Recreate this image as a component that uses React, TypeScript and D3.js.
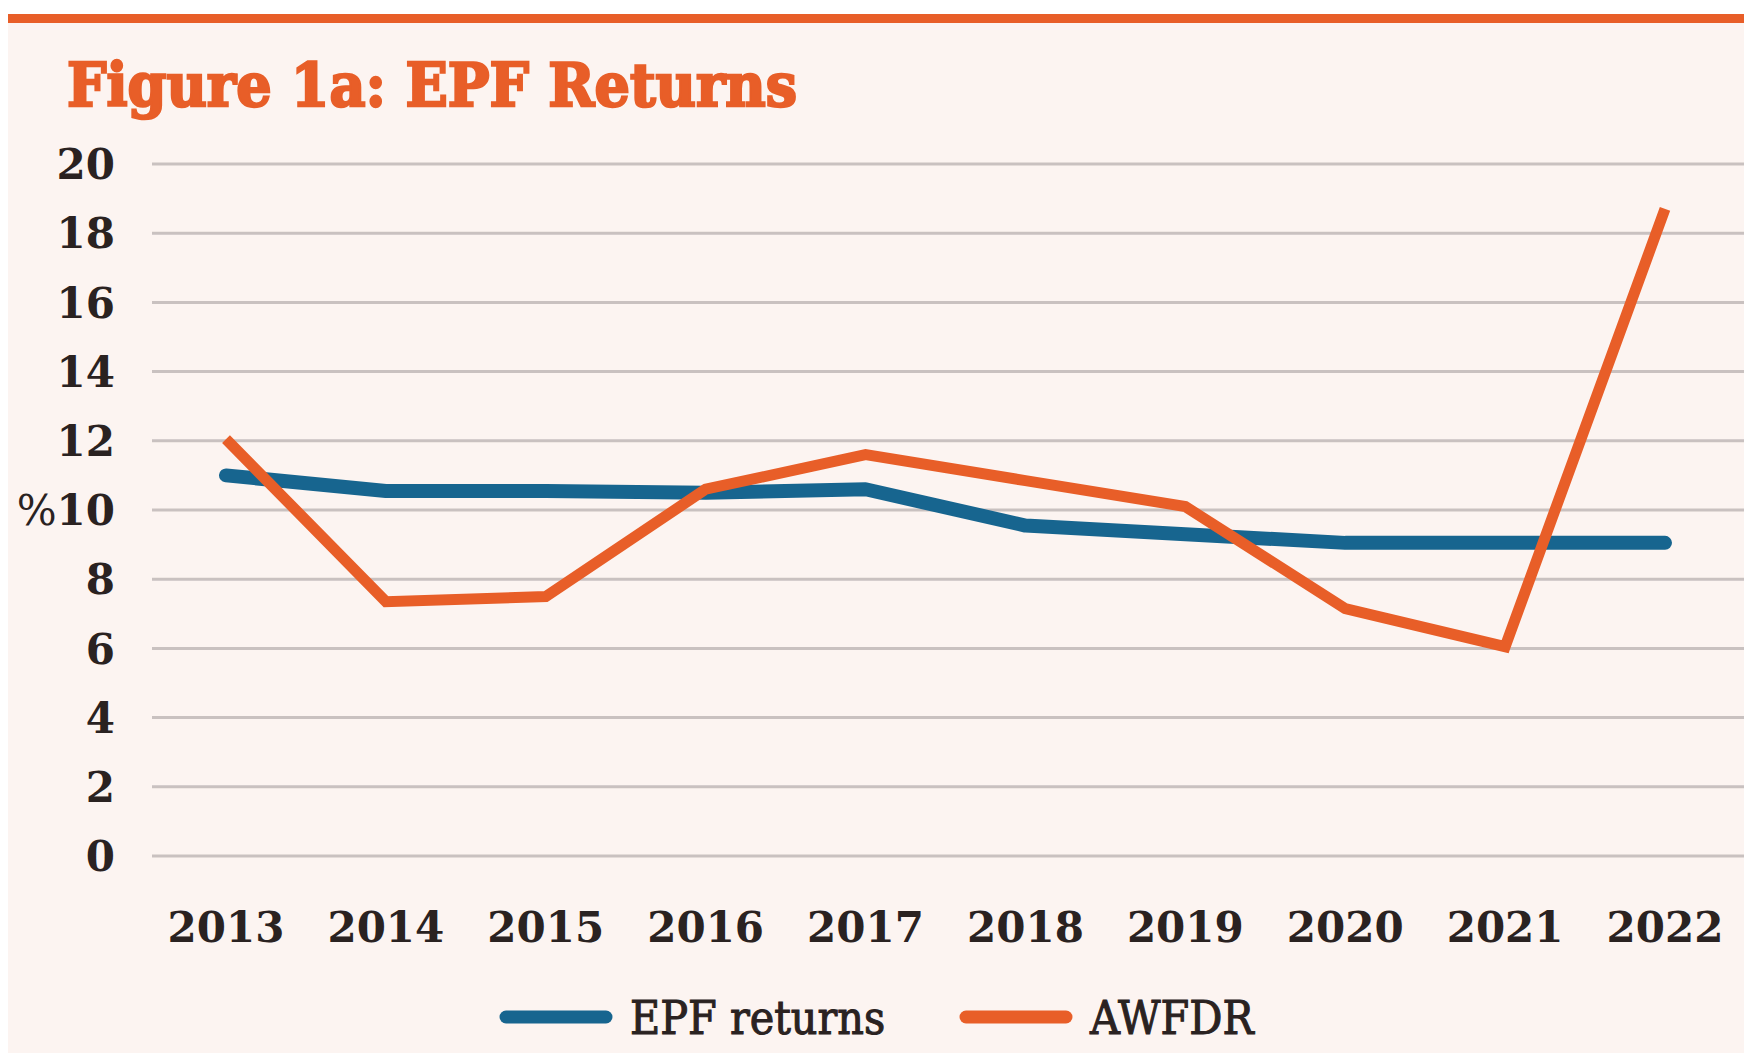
import React, { useRef, useEffect } from 'react';
import * as d3 from 'd3';

const years = ['2013', '2014', '2015', '2016', '2017', '2018', '2019', '2020', '2021', '2022'];
const epfReturns = [11.0, 10.55, 10.55, 10.5, 10.6, 9.55, 9.3, 9.05, 9.05, 9.05];
const awfdr = [12.05, 7.35, 7.5, 10.6, 11.6, 10.85, 10.1, 7.15, 6.05, 18.7];
const yTicks = [0, 2, 4, 6, 8, 10, 12, 14, 16, 18, 20];

const W = 1744;
const H = 1053;
const ORANGE = '#e85e28';
const BLUE = '#17658f';
const INK = '#2a2221';

const EPFChart: React.FC = () => {
  const svgRef = useRef<SVGSVGElement>(null);

  useEffect(() => {
    if (!svgRef.current) return;
    const svg = d3.select(svgRef.current);
    svg.selectAll('*').remove();

    // background panel + orange rule along the top
    svg.append('rect').attr('width', W).attr('height', H).attr('fill', '#ffffff');
    svg.append('rect').attr('x', 8).attr('y', 14).attr('width', W - 8).attr('height', H - 14).attr('fill', '#fcf4f1');
    svg.append('rect').attr('x', 8).attr('y', 14).attr('width', W - 8).attr('height', 9).attr('fill', ORANGE);

    svg.append('text')
      .attr('x', 67)
      .attr('y', 106)
      .attr('font-family', '"DejaVu Serif", serif')
      .attr('font-weight', 'bold')
      .attr('font-size', 60)
      .attr('fill', ORANGE)
      .attr('stroke', ORANGE)
      .attr('stroke-width', 2.5)
      .attr('textLength', 730)
      .attr('lengthAdjust', 'spacingAndGlyphs')
      .text('Figure 1a: EPF Returns');

    const xScale = d3.scalePoint<string>().domain(years).range([226, 1665]);
    const yScale = d3.scaleLinear().domain([0, 20]).range([856, 164]);

    // gridlines
    svg.append('g')
      .selectAll('line')
      .data(yTicks)
      .enter()
      .append('line')
      .attr('x1', 152)
      .attr('x2', W)
      .attr('y1', d => yScale(d))
      .attr('y2', d => yScale(d))
      .attr('stroke', '#c9c1c0')
      .attr('stroke-width', 3);

    // y tick labels, the 10 one carries the % sign
    const yLab = svg.append('g')
      .selectAll('text')
      .data(yTicks)
      .enter()
      .append('text')
      .attr('x', 115)
      .attr('y', d => yScale(d))
      .attr('dy', '0.36em')
      .attr('text-anchor', 'end')
      .attr('font-family', '"DejaVu Serif", serif')
      .attr('font-weight', 'bold')
      .attr('font-size', 42)
      .attr('fill', INK);
    yLab.filter(d => d === 10).append('tspan').attr('font-weight', 'normal').text('%');
    yLab.append('tspan').text(d => String(d));

    // x tick labels
    svg.append('g')
      .selectAll('text')
      .data(years)
      .enter()
      .append('text')
      .attr('x', d => xScale(d)!)
      .attr('y', 942)
      .attr('text-anchor', 'middle')
      .attr('font-family', '"DejaVu Serif", serif')
      .attr('font-weight', 'bold')
      .attr('font-size', 42)
      .attr('fill', INK)
      .text(d => d);

    const line = d3.line<number>()
      .x((_, i) => xScale(years[i])!)
      .y(d => yScale(d));

    svg.append('path')
      .datum(epfReturns)
      .attr('d', line)
      .attr('fill', 'none')
      .attr('stroke', BLUE)
      .attr('stroke-width', 14)
      .attr('stroke-linecap', 'round')
      .attr('stroke-linejoin', 'round');

    svg.append('path')
      .datum(awfdr)
      .attr('d', line)
      .attr('fill', 'none')
      .attr('stroke', ORANGE)
      .attr('stroke-width', 11)
      .attr('stroke-linejoin', 'miter');

    // legend
    const legend = [
      { name: 'EPF returns', color: BLUE, x: 506 },
      { name: 'AWFDR', color: ORANGE, x: 966 },
    ];
    const lg = svg.append('g').selectAll('g').data(legend).enter().append('g');
    lg.append('line')
      .attr('x1', d => d.x)
      .attr('x2', d => d.x + 100)
      .attr('y1', 1017)
      .attr('y2', 1017)
      .attr('stroke', d => d.color)
      .attr('stroke-width', 13)
      .attr('stroke-linecap', 'round');
    lg.append('text')
      .attr('x', d => d.x + 124)
      .attr('y', 1034)
      .attr('font-family', '"DejaVu Serif Condensed", "DejaVu Serif", serif')
      .attr('font-stretch', 'condensed')
      .attr('font-size', 46)
      .attr('fill', INK)
      .attr('stroke', INK)
      .attr('stroke-width', 1)
      .text(d => d.name);
  }, []);

  return <svg ref={svgRef} width={W} height={H} style={{ display: 'block' }} />;
};

export default function App() {
  return (
    <div style={{ position: 'absolute', left: 0, top: 0 }}>
      <EPFChart />
    </div>
  );
}
